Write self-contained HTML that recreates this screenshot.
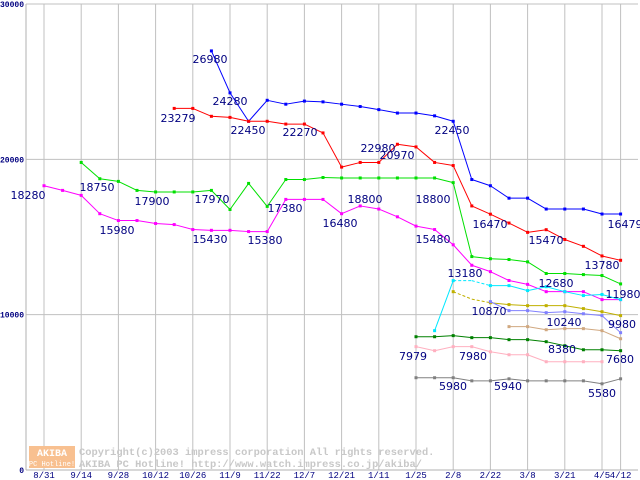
<!DOCTYPE html>
<html><head><meta charset="utf-8"><style>
body{margin:0;background:#fff}
svg{display:block}
text{font-family:"Liberation Mono","DejaVu Sans Mono",monospace}
</style></head><body>
<svg id="chart" width="640" height="480" xmlns="http://www.w3.org/2000/svg"></svg>
<script>
const xLabels=["8/31","9/14","9/28","10/12","10/26","11/9","11/22","12/7","12/21","1/11","1/25","2/8","2/22","3/8","3/21","4/5","4/12"];
const xLabelIdx=[0,2,4,6,8,10,12,14,16,18,20,22,24,26,28,30,31];
const yTicks=[0,10000,20000,30000];
const N=null;
const blue=[N,N,N,N,N,N,N,N,N,26980,24280,22450,23800,23550,23750,23700,23550,23400,23200,22980,22980,22800,22450,18700,18300,17500,17500,16800,16800,16800,16479,16479];
const red=[N,N,N,N,N,N,N,23279,23279,22770,22700,22450,22450,22270,22270,21700,19500,19800,19800,20970,20800,19800,19600,17000,16470,15900,15300,15470,14840,14400,13780,13500];
const green=[N,N,19800,18750,18580,18000,17900,17900,17900,18000,16770,18450,16970,18700,18700,18830,18800,18800,18800,18800,18800,18800,18500,13740,13600,13550,13400,12650,12650,12580,12520,11980];
const magenta=[18300,18000,17680,16500,16060,16060,15870,15800,15480,15430,15430,15350,15350,17420,17420,17420,16500,17000,16800,16300,15700,15480,14500,13180,12770,12200,11950,11480,11480,11480,10970,10970];
const cyan=[N,N,N,N,N,N,N,N,N,N,N,N,N,N,N,N,N,N,N,N,N,8970,12190,12190,11870,11870,11550,11800,11480,11230,11300,10970];
const olive=[N,N,N,N,N,N,N,N,N,N,N,N,N,N,N,N,N,N,N,N,N,N,11480,11000,10770,10650,10580,10580,10580,10390,10190,9940];
const lavender=[N,N,N,N,N,N,N,N,N,N,N,N,N,N,N,N,N,N,N,N,N,N,N,N,10840,10260,10260,10130,10190,10060,9940,8840];
const tan=[N,N,N,N,N,N,N,N,N,N,N,N,N,N,N,N,N,N,N,N,N,N,N,N,N,9230,9230,9030,9100,9100,8970,8450];
const darkgreen=[N,N,N,N,N,N,N,N,N,N,N,N,N,N,N,N,N,N,N,N,8580,8580,8650,8520,8520,8390,8390,8260,8000,7740,7740,7680];
const pink=[N,N,N,N,N,N,N,N,N,N,N,N,N,N,N,N,N,N,N,N,7940,7680,7940,7940,7610,7420,7420,6970,6970,6970,6970,N];
const gray=[N,N,N,N,N,N,N,N,N,N,N,N,N,N,N,N,N,N,N,N,5940,5940,5940,5740,5740,5870,5740,5740,5740,5740,5550,5870];
const seriesList=[
 ["blue",blue,"#0000ff",[]],["red",red,"#ff0000",[]],["green",green,"#00e000",[]],["magenta",magenta,"#ff00ff",[]],
 ["cyan",cyan,"#00e8ff",[22,23]],["olive",olive,"#c0b000",[22,23]],["lavender",lavender,"#8080ff",[]],["tan",tan,"#d0a880",[]],
 ["darkgreen",darkgreen,"#008000",[]],["pink",pink,"#ffb0c0",[]],["gray",gray,"#808080",[]]];
const labelText=["26980","24280","22450","23279","22270","22980","22450","20970","18750","17900","17970","17380","18800","18800","18280","15980","15430","15380","16480","15480","13180","16470","15470","13780","12680","11980","10870","10240","9980","8380","7979","7980","7680","5980","5940","5580","16479"];
const labelPos=[[210,59],[230,101],[248,130],[178,118],[300,132],[378,148],[452,130],[397,155],[97,187],[152,201],[212,199],[285,208],[365,199],[433,199],[28,195],[117,230],[210,239],[265,240],[340,223],[433,239],[465,273],[490,224],[546,240],[602,265],[556,283],[623,294],[489,311],[564,322],[622,324],[562,349],[413,356],[473,356],[620,359],[453,386],[508,386],[602,393],[625,224]];

const svg=document.getElementById('chart');
const NS="http://www.w3.org/2000/svg";
const X0=26,X1=638,Y0=470,Y1=4,yMax=30000;
const xs=i=>44+i*18.6;
const ys=v=>Y0-(v/yMax)*(Y0-Y1);
function mk(tag,attrs,parent){const e=document.createElementNS(NS,tag);for(const k in attrs)e.setAttribute(k,attrs[k]);(parent||svg).appendChild(e);return e;}

const grid=mk('g',{});


yTicks.forEach(v=>{const l=mk('line',{x1:X0,x2:X1,y1:ys(v),y2:ys(v),stroke:'#c0c0c0','stroke-width':1},grid);
 
 });
xLabelIdx.forEach(i=>{const l=mk('line',{x1:xs(i),x2:xs(i),y1:Y1,y2:Y0,stroke:'#c0c0c0','stroke-width':1},grid);
 
 });
const ax=mk('line',{x1:X0,x2:X0,y1:Y1,y2:Y0,stroke:'#b0b0b0','stroke-width':1});


const bx=mk('line',{x1:X0,x2:X1,y1:Y0,y2:Y0,stroke:'#b0b0b0','stroke-width':1});



yTicks.forEach(v=>{const t=mk('text',{x:24,y:ys(v)+3,'text-anchor':'end','font-size':8,'font-weight':'bold',fill:'#000080'});t.textContent=String(v);
 
 });
xLabels.forEach((s,k)=>{const t=mk('text',{x:xs(xLabelIdx[k]),y:478,'text-anchor':'middle','font-size':9,fill:'#000080'});t.textContent=s;
 
 });

const wm=mk('g',{});


mk('rect',{x:29,y:446,width:46,height:22,fill:'#f8c090'},wm);
const w1=mk('text',{x:52,y:456,'text-anchor':'middle','font-size':10,fill:'#fff','font-weight':'bold'},wm);w1.textContent="AKIBA";
const w2=mk('text',{x:52,y:466,'text-anchor':'middle','font-size':7,fill:'#fff'},wm);w2.textContent="PC Hotline!";
const w3=mk('text',{x:79,y:455,'font-size':10.4,fill:'#c8c8c8','font-weight':'bold'},wm);w3.textContent="Copyright(c)2003 impress corporation All rights reserved.";
const w4=mk('text',{x:79,y:467,'font-size':10.4,fill:'#c8c8c8','font-weight':'bold'},wm);w4.textContent="AKIBA PC Hotline!  http://www.watch.impress.co.jp/akiba/";

seriesList.forEach(([name,data,color,dashed])=>{
 const g=mk('g',{});
 
 
 for(let i=0;i<data.length-1;i++){
  if(data[i]==null||data[i+1]==null)continue;
  const a={x1:xs(i),y1:ys(data[i]),x2:xs(i+1),y2:ys(data[i+1]),stroke:color,'stroke-width':1};
  if(dashed.includes(i))a['stroke-dasharray']='3,2';
  const l=mk('line',a,g);
  
  
 }
 data.forEach((v,i)=>{ if(v==null)return;
  if(dashed.length&&i===dashed[dashed.length-1])return;
  const r=mk('rect',{x:xs(i)-1.5,y:ys(v)-1.5,width:3,height:3,fill:color},g);
  
  
 });
});

labelText.forEach((s,k)=>{const t=mk('text',{x:labelPos[k][0],y:labelPos[k][1]+4,'text-anchor':'middle','font-size':11,fill:'#000080',style:'font-family:"DejaVu Sans","Liberation Sans",sans-serif'});t.textContent=s;
 
 });
</script>
</body></html>
